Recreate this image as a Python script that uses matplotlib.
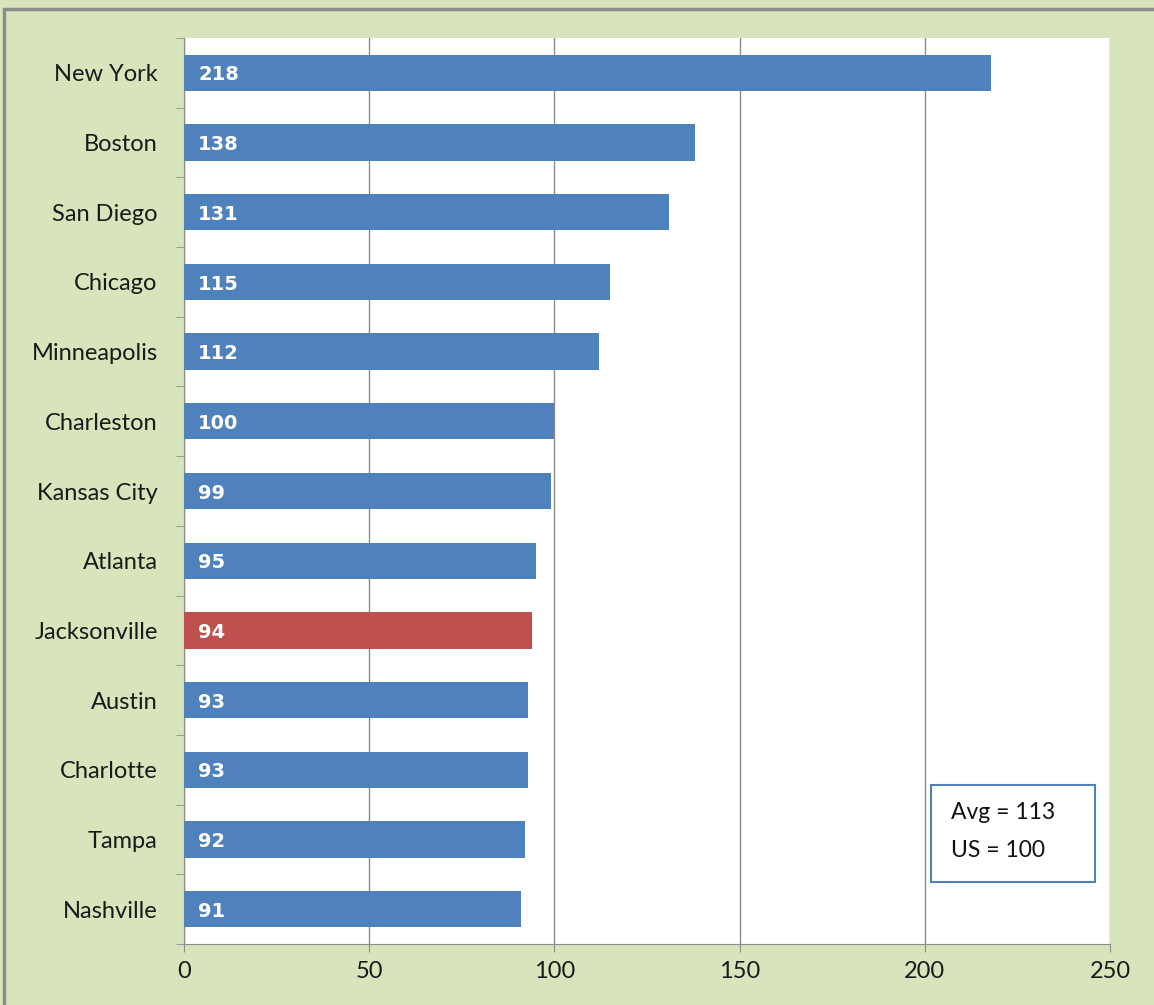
import matplotlib.pyplot as plt
from matplotlib.patches import Rectangle

cities = ["New York", "Boston", "San Diego", "Chicago", "Minneapolis", "Charleston",
          "Kansas City", "Atlanta", "Jacksonville", "Austin", "Charlotte", "Tampa", "Nashville"]
values = [218, 138, 131, 115, 112, 100, 99, 95, 94, 93, 93, 92, 91]
highlight = "Jacksonville"
avg_lines = ["Avg = 113", "US = 100"]

blue = "#4F81BD"
red = "#C0504D"
green_bg = "#D8E4BC"

plt.rcParams['font.family'] = ['Lato', 'DejaVu Sans']

W, H = 1154, 1005
fig = plt.figure(figsize=(W / 100, H / 100), dpi=100)
fig.patch.set_facecolor(green_bg)

# chart frame (partly cut off at the top and left)
fig.patches.append(Rectangle((4 / W, -0.1), 1.2, (H - 9) / H + 0.1, transform=fig.transFigure,
                             facecolor="none", edgecolor="#8C8C8C", linewidth=2.5))

ax = fig.add_axes([184 / W, 1 - 944 / H, (1110 - 184) / W, (944 - 38) / H])
ax.set_facecolor("white")

pos = list(range(len(cities)))
colors = [red if c == highlight else blue for c in cities]
ax.barh(pos, values, height=0.52, color=colors, zorder=3)
for p, v in zip(pos, values):
    ax.text(3.8, p + 0.03, str(v), color="white", fontsize=14, fontweight="bold",
            family="DejaVu Sans", va="center", ha="left", zorder=4)

ax.set_xlim(0, 250)
ax.set_ylim(len(cities) - 0.5, -0.5)
ax.set_xticks([0, 50, 100, 150, 200, 250])
ax.set_yticks(pos)
ax.set_yticklabels(cities)
ax.set_yticks([p + 0.5 for p in range(-1, len(cities))], minor=True)
ax.tick_params(axis="y", which="major", length=0, pad=19, labelsize=17, labelcolor="#1a1a1a")
ax.tick_params(axis="y", which="minor", length=6, color="#8C8C8C", direction="out")
ax.tick_params(axis="x", length=6, color="#8C8C8C", labelsize=17, labelcolor="#1a1a1a", pad=6)
ax.grid(axis="x", color="#8C8C8C", linewidth=1, zorder=0)
for side in ["top", "right"]:
    ax.spines[side].set_visible(False)
for side in ["left", "bottom"]:
    ax.spines[side].set_color("#8C8C8C")

# legend-like text box with the averages
bx0, bx1, by0, by1 = 931, 1095, 785, 882
fig.patches.append(Rectangle((bx0 / W, 1 - by1 / H), (bx1 - bx0) / W, (by1 - by0) / H,
                             transform=fig.transFigure, facecolor="white", edgecolor=blue,
                             linewidth=1.5, zorder=5))
for i, line in enumerate(avg_lines):
    fig.text(951 / W, 1 - (812 + i * 38) / H, line, fontsize=16.5, va="center", ha="left",
             color="#111111", zorder=6)

fig.savefig("out.png", dpi=100, facecolor=fig.get_facecolor())
